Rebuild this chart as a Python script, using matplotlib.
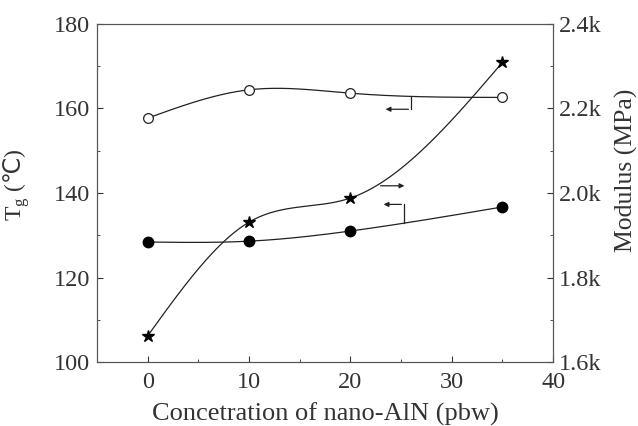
import numpy as np
import matplotlib
matplotlib.use("Agg")
import matplotlib.pyplot as plt
from matplotlib.ticker import MultipleLocator, FuncFormatter

plt.rcParams["font.family"] = ["Liberation Serif", "DejaVu Serif"]
plt.rcParams["mathtext.fontset"] = "custom"
plt.rcParams["mathtext.rm"] = "Liberation Serif"
plt.rcParams["mathtext.sf"] = "DejaVu Sans"

# loading of nano-AlN (pbw)
conc = [0, 10, 20, 35]
tg_open = [157.7, 164.4, 163.6, 162.6]
tg_filled = [128.4, 128.6, 131.0, 136.7]
modulus = [1662, 1931, 1988, 2309]


def natural_spline(x, y, n=200):
    x = np.asarray(x, float)
    y = np.asarray(y, float)
    k = len(x)
    h = np.diff(x)
    A = np.zeros((k, k))
    r = np.zeros(k)
    A[0, 0] = A[-1, -1] = 1
    for i in range(1, k - 1):
        A[i, i - 1] = h[i - 1]
        A[i, i] = 2 * (h[i - 1] + h[i])
        A[i, i + 1] = h[i]
        r[i] = 6 * ((y[i + 1] - y[i]) / h[i] - (y[i] - y[i - 1]) / h[i - 1])
    m = np.linalg.solve(A, r)
    xs = np.linspace(x[0], x[-1], n)
    idx = np.clip(np.searchsorted(x, xs) - 1, 0, k - 2)
    t0 = xs - x[idx]
    t1 = x[idx + 1] - xs
    hi = h[idx]
    ys = (m[idx] * t1**3 + m[idx + 1] * t0**3) / (6 * hi) \
        + (y[idx] / hi - m[idx] * hi / 6) * t1 \
        + (y[idx + 1] / hi - m[idx + 1] * hi / 6) * t0
    return xs, ys


fig, ax = plt.subplots(figsize=(6.38, 4.26), dpi=100)
fig.subplots_adjust(left=0.152, right=0.867, top=0.944, bottom=0.150)
ax2 = ax.twinx()

lc = "#222222"
xs, ys = natural_spline(conc, tg_open)
ax.plot(xs, ys, color=lc, lw=0.9)
ax.plot(conc, tg_open, "o", ms=7, mfc="white", mec=lc, mew=0.9)

xs, ys = natural_spline(conc, tg_filled)
ax.plot(xs, ys, color=lc, lw=0.9)
ax.plot(conc, tg_filled, "o", ms=7.5, color="black")

xs, ys = natural_spline(conc, modulus)
ax2.plot(xs, ys, color=lc, lw=0.9)
ax2.plot(conc, modulus, "*", ms=9, color="black")

# series pointers
arr = dict(arrowstyle="-|>", color=lc, lw=0.9, mutation_scale=7)
ax.plot([26.0, 26.0], [162.6, 159.8], color=lc, lw=0.9)
ax.annotate("", xy=(23.2, 159.8), xytext=(26.0, 159.8), arrowprops=arr)
ax.plot([25.3, 25.3], [133.0, 137.3], color=lc, lw=0.9)
ax.annotate("", xy=(23.0, 137.3), xytext=(25.3, 137.3), arrowprops=arr)
ax.annotate("", xy=(25.6, 141.7), xytext=(22.7, 141.7), arrowprops=arr)

ax.set_xlim(-5, 40)
ax.set_ylim(100, 180)
ax2.set_ylim(1600, 2400)

ax.xaxis.set_major_locator(MultipleLocator(10))
ax.xaxis.set_minor_locator(MultipleLocator(5))
ax.yaxis.set_major_locator(MultipleLocator(20))
ax.yaxis.set_minor_locator(MultipleLocator(10))
ax2.yaxis.set_major_locator(MultipleLocator(200))
ax2.yaxis.set_minor_locator(MultipleLocator(100))
ax2.yaxis.set_major_formatter(FuncFormatter(lambda v, p: f"{v / 1000:.1f}k"))

for a in (ax, ax2):
    a.tick_params(which="both", direction="in", labelsize=17.5, colors="#333333")
    a.tick_params(which="major", length=4)
    a.tick_params(which="minor", length=2.5)
    for s in a.spines.values():
        s.set_color("#555555")
ax.tick_params(top=False, which="both")
ax.tick_params(axis="x", pad=7)
ax.tick_params(axis="y", pad=5)
ax2.tick_params(pad=4)

ax.set_xlabel("Concetration of nano-AlN (pbw)", fontsize=19, color="#333333", labelpad=7)
ax.set_ylabel(r"T$_{\rm g}$ ($\mathsf{℃}$)", fontsize=17, color="#333333")
ax.yaxis.set_label_coords(-0.143, 0.524)
ax2.set_ylabel("Modulus (MPa)", fontsize=18.5, color="#333333")
ax2.yaxis.set_label_coords(1.136, 0.568)

fig.savefig("out.png", dpi=100)
